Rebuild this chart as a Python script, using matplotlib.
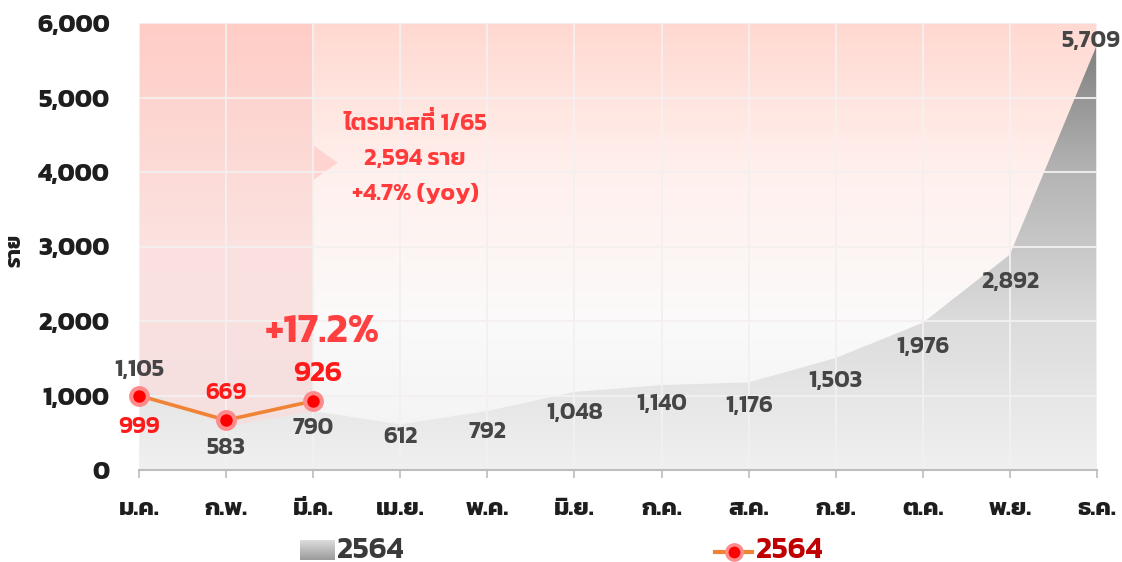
import numpy as np
import matplotlib
matplotlib.use("Agg")
import matplotlib.pyplot as plt
from matplotlib.colors import LinearSegmentedColormap
from matplotlib.lines import Line2D
from matplotlib.patches import Polygon

plt.rcParams['font.family'] = ['Kanit', 'Prompt', 'Mitr', 'Athiti', 'DejaVu Sans']

months = ["ม.ค.", "ก.พ.", "มี.ค.", "เม.ย.", "พ.ค.", "มิ.ย.",
          "ก.ค.", "ส.ค.", "ก.ย.", "ต.ค.", "พ.ย.", "ธ.ค."]
cases_prev = [1105, 583, 790, 612, 792, 1048, 1140, 1176, 1503, 1976, 2892, 5709]
cases_now = [999, 669, 926]
series_name_prev = "2564"
series_name_now = "2564"
yticks = [0, 1000, 2000, 3000, 4000, 5000, 6000]
note_lines = ["ไตรมาสที่ 1/65", "2,594 ราย", "+4.7% (yoy)"]
growth_text = "+17.2%"
ylabel = "ราย"

x = np.arange(len(months))
xn = np.arange(len(cases_now))

fig = plt.figure(figsize=(11.22, 5.62), dpi=100)
ax = fig.add_axes([139/1122, 1-470/562, 958/1122, 447/562])
ax.set_xlim(0, 11)
ax.set_ylim(0, 6000)

# background gradient: pink at top, light gray at bottom
bg = LinearSegmentedColormap.from_list("bg", ["#f2f2f2", "#fbfafa", "#fff0ed", "#ffd9d1"])
grad = np.linspace(0, 1, 256).reshape(-1, 1)
ax.imshow(grad, cmap=bg, aspect="auto", extent=[0, 11, 0, 6000], origin="lower", zorder=0)

# shaded first quarter
pk = LinearSegmentedColormap.from_list("pk", ["#f3dfdf", "#fbe2e0", "#ffcdc6"])
ax.imshow(grad, cmap=pk, aspect="auto", extent=[0, 2, 0, 6000], origin="lower", zorder=0.5)
tri = Polygon([[2, 3890], [2, 4360], [2.28, 4125]], closed=True, color="#ffd3d0", lw=0, zorder=0.6)
ax.add_patch(tri)

# gray gradient area
area = ax.fill_between(x, cases_prev, 0, color="none", lw=0, zorder=1)
gr = LinearSegmentedColormap.from_list("gr", ["#f0f0f0", "#dcdcdc", "#b4b4b4", "#777777"])
im = ax.imshow(grad, cmap=gr, aspect="auto", extent=[0, 11, 0, 6000], origin="lower", zorder=1)
im.set_clip_path(area.get_paths()[0], transform=ax.transData)

# grid
for v in yticks[1:]:
    ax.axhline(v, color="#f4f0f0", lw=1.3, zorder=2)
for xi in x:
    ax.axvline(xi, color="#f4f0f0", lw=1.3, zorder=2)

for s in ["top", "right", "left"]:
    ax.spines[s].set_visible(False)
ax.spines["bottom"].set_color("#bdbdbd")
ax.spines["bottom"].set_linewidth(1.5)
ax.spines["bottom"].set_zorder(3)

ax.set_xticks(x)
ax.set_xticklabels(months, fontsize=17.5, fontweight="bold", color="#1e1e1e")
ax.tick_params(axis="x", length=6, width=1.2, color="#bdbdbd", pad=14)
ax.set_yticks(yticks)
ax.set_yticklabels([f"{v:,}" for v in yticks], fontsize=18.5, fontweight="bold", color="#1e1e1e")
ax.tick_params(axis="y", length=0, pad=21)
fig.text(16/1122, 1-250/562, ylabel, rotation=90, ha="center", va="center",
         fontsize=15, fontweight="bold", color="#1e1e1e")

# labels of previous year
prev_dy = [18, -21, -17, -13, -21, -21, -19, -24, -23, -24, -27, 4]
prev_dx = [0, 0, 0, 0, 0, 0, 0, 0, 0, 0, 0, -6]
for xi, v, dy, dx in zip(x, cases_prev, prev_dy, prev_dx):
    ax.annotate(f"{v:,}", (xi, v), xytext=(dx, dy), textcoords="offset pixels",
                ha="center", va="center", fontsize=17, fontweight="semibold",
                color="#454545", zorder=6, annotation_clip=False)

# current year line
ax.plot(xn, cases_now, color="#f08335", lw=2.6, zorder=4, clip_on=False)
ax.plot(xn, cases_now, "o", ms=12, mfc="#ff0000", mec="#ff8a8a", mew=3, zorder=5, clip_on=False)
now_dy = [-31, 27, 27]
now_fs = [17, 17, 21]
for xi, v, dy, fs in zip(xn, cases_now, now_dy, now_fs):
    ax.annotate(f"{v:,}", (xi, v), xytext=(0 if xi != 2 else 4, dy), textcoords="offset pixels",
                ha="center", va="center", fontsize=fs, fontweight="semibold",
                color="#ff1a1a", zorder=6, annotation_clip=False)

ax.text(2.1, 1850, growth_text, ha="center", va="center", fontsize=30,
        fontweight="semibold", color="#ff4040", zorder=6)

note_style = dict(fontsize=17.5, fontweight="semibold", color="#ff3b3b", zorder=6)
note_texts = []
for i, line in enumerate(note_lines):
    note_texts.append(ax.text(3.17, 4564 - i * 470, line, ha="center", va="baseline", **note_style))

# tone mark of "ที่" sits inside the upper vowel without shaping, lift a copy above it
fig.canvas.draw()
rend = fig.canvas.get_renderer()
bb = note_texts[0].get_window_extent(rend)
base_y = ax.transData.transform((3.17, 4564))[1]
tmp = fig.text(bb.x0, base_y, "ไตรมาสที", ha="left", va="baseline",
               transform=None, fontsize=17.5, fontweight="semibold")
bt = tmp.get_window_extent(rend)
tmp.remove()
fig.text(bt.x1 - 1, base_y + 5, "\u0e48", ha="right", va="baseline", transform=None,
         fontsize=17.5, fontweight="semibold", color="#ff3b3b", zorder=6)

# legend
lax = fig.add_axes([300/1122, 1-560/562, 34/1122, 20/562])
lax.imshow(grad[::-1], cmap=LinearSegmentedColormap.from_list("lg", ["#9a9a9a", "#e0e0e0"]),
           aspect="auto", extent=[0, 1, 0, 1])
lax.axis("off")
fig.text(337/1122, 1-550/562, series_name_prev, ha="left", va="center", fontsize=22,
         fontweight="semibold", color="#3a3a3a")
fig.add_artist(Line2D([715/1122, 752/1122], [1-552/562, 1-552/562], color="#f08335", lw=3,
                      transform=fig.transFigure))
fig.add_artist(Line2D([734/1122], [1-552/562], marker="o", ms=11, mfc="#ff0000", mec="#ff8a8a",
                      mew=2.5, transform=fig.transFigure))
fig.text(756/1122, 1-550/562, series_name_now, ha="left", va="center", fontsize=22,
         fontweight="semibold", color="#c00000")

fig.savefig("out.png")
